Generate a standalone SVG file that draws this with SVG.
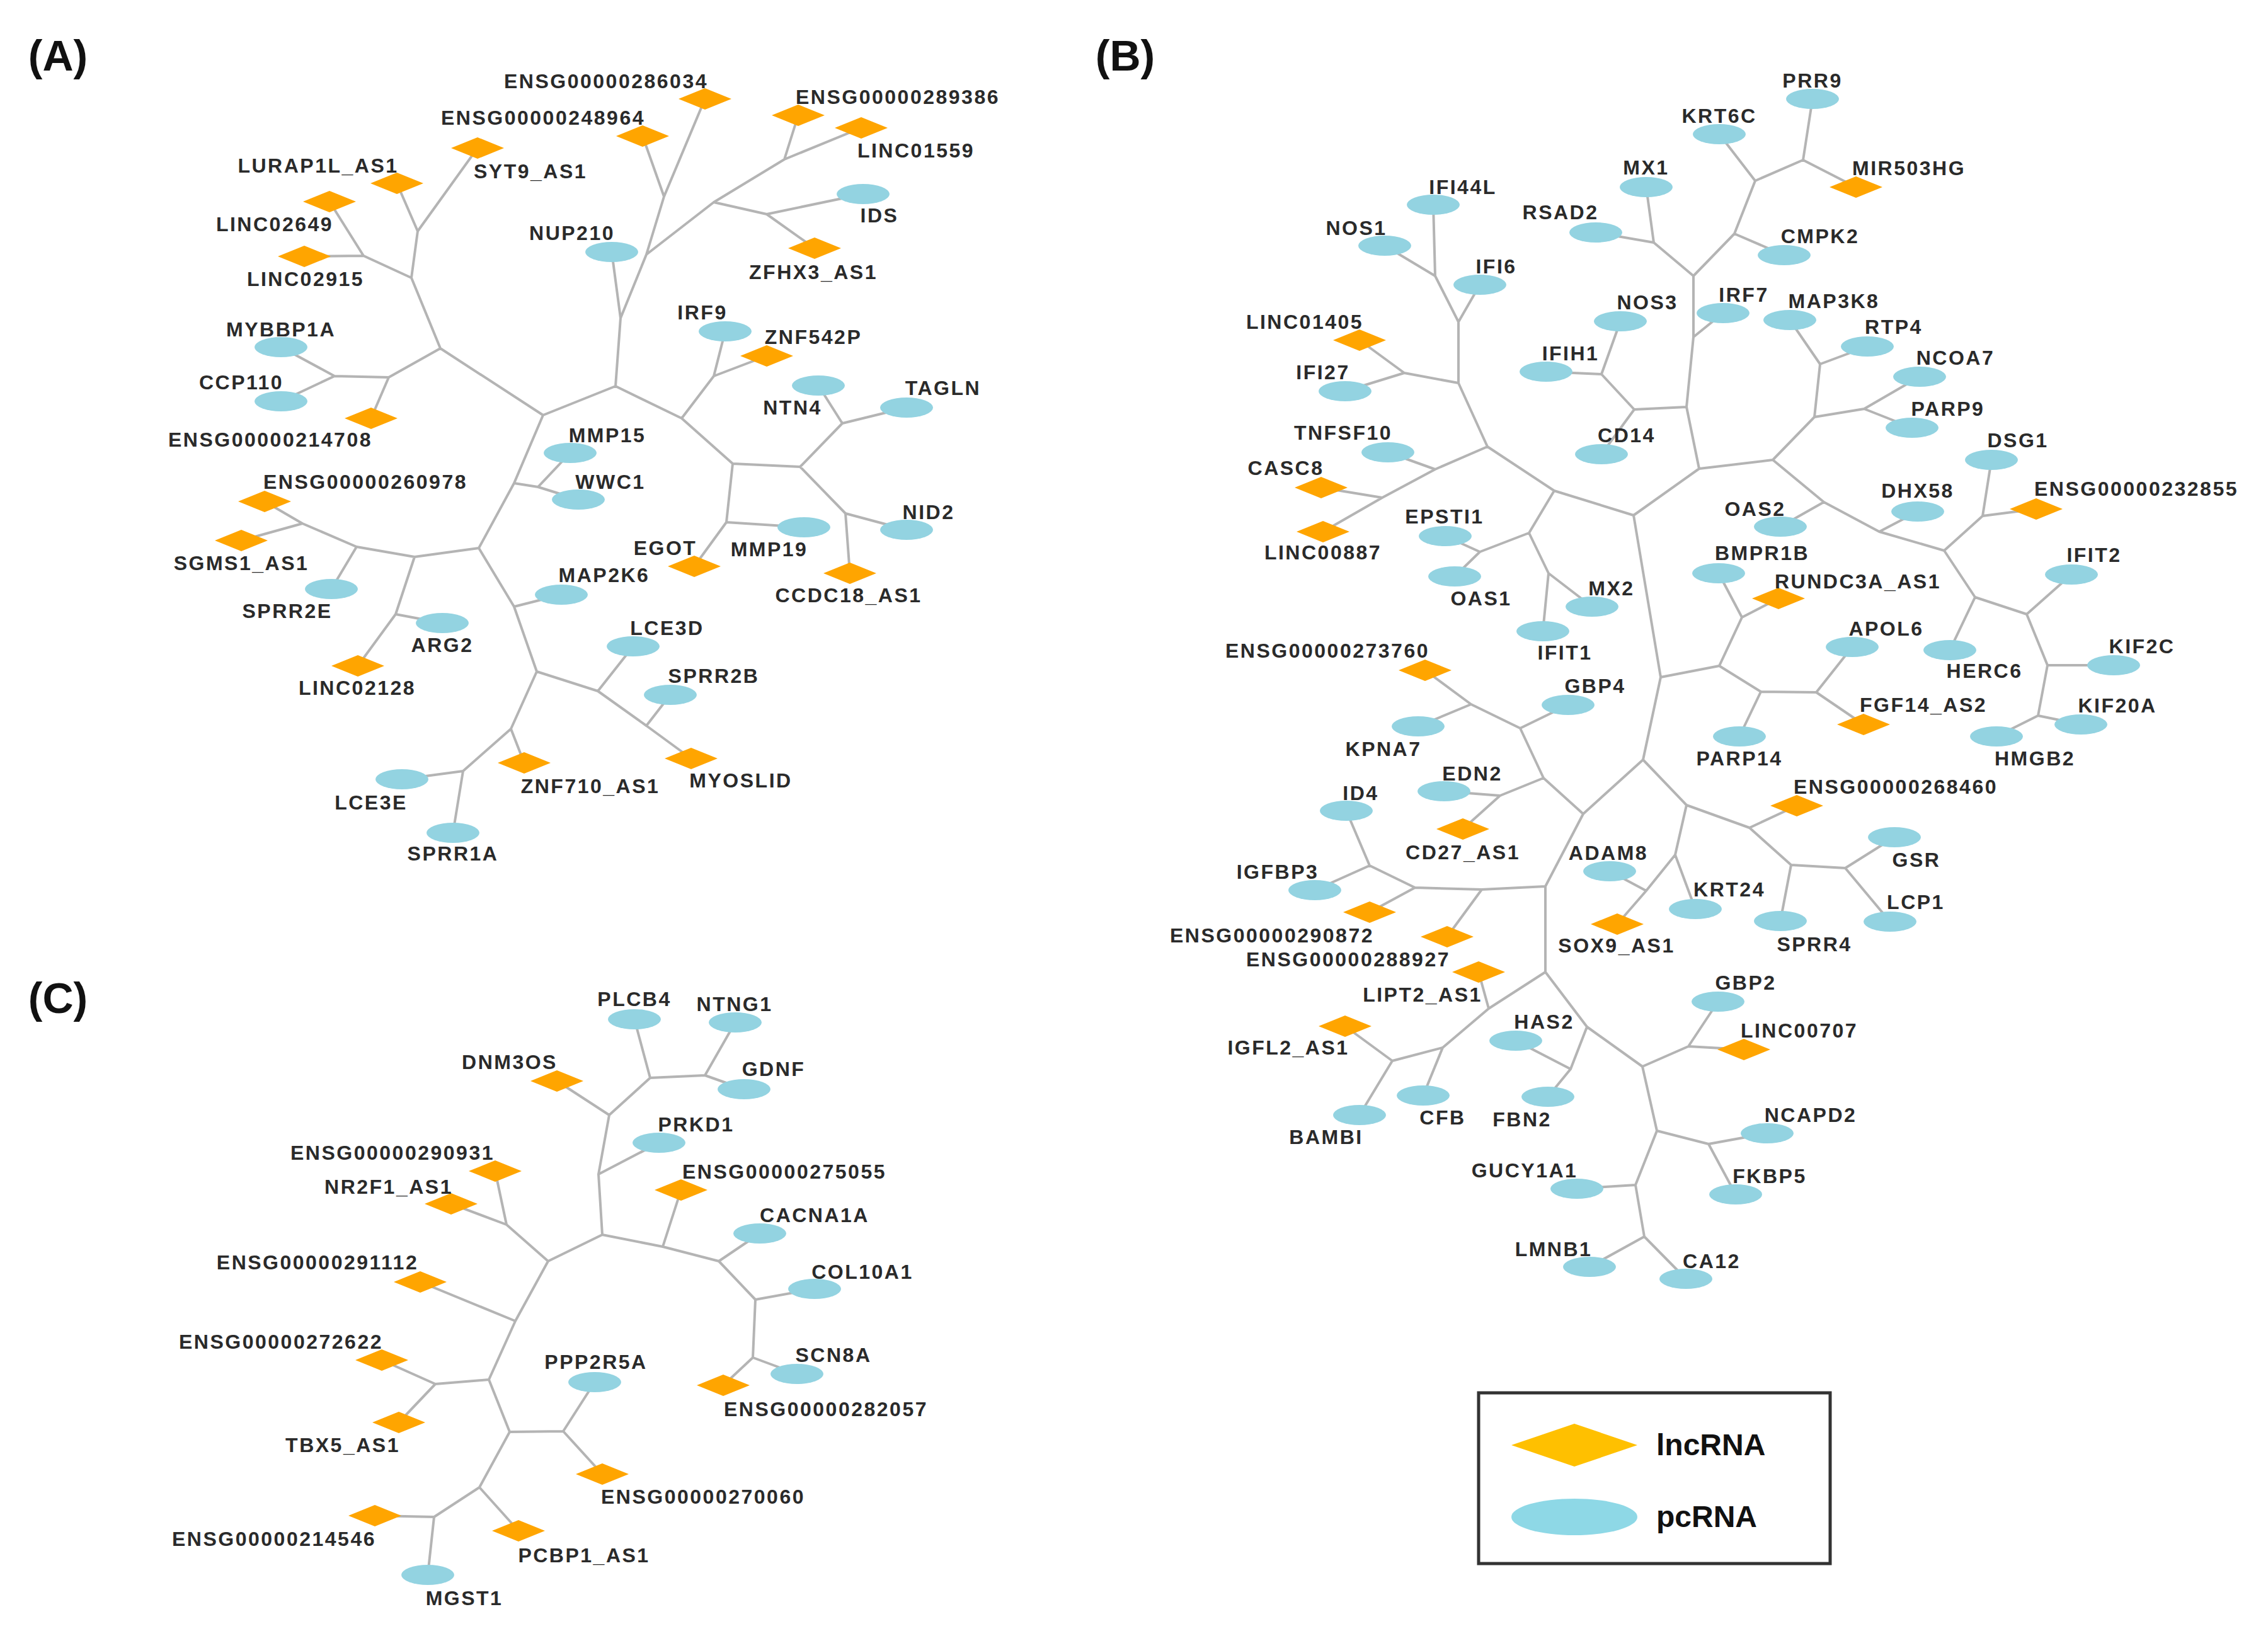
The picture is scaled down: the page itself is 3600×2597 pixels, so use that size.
<svg xmlns="http://www.w3.org/2000/svg" xmlns:xlink="http://www.w3.org/1999/xlink" width="3600" height="2597" viewBox="0 0 3600 2597">
<style>
.e{stroke:#b4b4b4;stroke-width:4;fill:none;stroke-linecap:round}
.pc{fill:#93d3e1}
.t{font-family:'Liberation Sans',Arial,sans-serif;font-weight:bold;font-size:32px;fill:#2a2a2a;text-anchor:middle;letter-spacing:2.5px}
.p{font-family:'Liberation Sans',Arial,sans-serif;font-weight:bold;font-size:68px;fill:#111;text-anchor:middle}
.lg{font-family:'Liberation Sans',Arial,sans-serif;font-weight:bold;font-size:48px;fill:#111}
</style>
<defs>
<polygon id="lnc" points="-42,0 0,-17 42,0 0,17" fill="#ffa500"/>
<ellipse id="pce" cx="0" cy="0" rx="42" ry="16" fill="#93d3e1"/>
</defs>
<rect width="3600" height="2597" fill="#fff"/>
<text class="p" x="92" y="112">(A)</text>
<text class="p" x="1786" y="112">(B)</text>
<text class="p" x="92" y="1608">(C)</text>
<g id="connectors">
<path class="e" d="M1054,312L1119,157M1054,312L1020,216M1054,312L1026,404M1026,404L1133,321M1133,321L1217,340M1217,340L1370,308M1217,340L1293,394M1133,321L1245,253M1245,253L1267,183M1245,253L1367,203M1026,404L985,505M971,400L985,505M985,505L977,613M977,613L862,659M977,613L1082,664M862,659L699,553M699,553L653,441M653,441L663,367M663,367L630,291M663,367L758,235M653,441L577,406M577,406L523,320M577,406L483,407M699,553L617,599M617,599L531,597M531,597L446,551M531,597L446,637M617,599L589,664M862,659L816,767M816,767L854,773M854,773L905,719M854,773L918,793M816,767L760,870M760,870L658,884M658,884L566,868M566,868L480,831M480,831L420,796M480,831L383,858M566,868L526,935M658,884L628,975M628,975L702,989M628,975L568,1057M760,870L816,963M816,963L891,944M816,963L852,1066M852,1066L949,1097M949,1097L1005,1026M949,1097L1026,1152M1026,1152L1064,1103M1026,1152L1097,1204M852,1066L811,1157M811,1157L832,1211M811,1157L735,1224M735,1224L638,1237M735,1224L719,1322M1082,664L1133,597M1133,597L1151,526M1133,597L1217,565M1082,664L1163,736M1163,736L1270,741M1270,741L1337,672M1337,672L1299,612M1337,672L1439,647M1270,741L1342,815M1342,815L1439,841M1342,815L1349,910M1163,736L1153,829M1153,829L1276,837M1153,829L1102,899"/>
<path class="e" d="M2278,438L2198,390M2278,438L2275,325M2278,438L2315,511M2315,511L2349,452M2315,511L2315,608M2315,608L2229,592M2229,592L2158,540M2229,592L2135,621M2315,608L2361,709M2361,709L2278,745M2278,745L2203,718M2278,745L2194,790M2194,790L2097,774M2194,790L2100,844M2361,709L2467,779M2467,779L2427,846M2427,846L2349,876M2349,876L2294,851M2349,876L2309,915M2427,846L2458,910M2458,910L2527,963M2458,910L2449,1002M2467,779L2593,818M2593,818L2697,744M2697,744L2677,646M2677,646L2594,650M2594,650L2542,594M2542,594L2572,510M2542,594L2454,590M2594,650L2542,721M2677,646L2688,535M2688,535L2735,497M2688,535L2688,438M2688,438L2625,385M2625,385L2613,297M2625,385L2533,369M2688,438L2753,371M2753,371L2832,405M2753,371L2786,287M2786,287L2729,213M2786,287L2862,254M2862,254L2877,157M2862,254L2946,297M2697,744L2814,730M2814,730L2880,662M2880,662L2889,578M2889,578L2841,508M2889,578L2964,550M2880,662L2959,649M2959,649L3047,598M2959,649L3035,679M2814,730L2895,797M2895,797L2826,836M2895,797L2983,844M2983,844L3044,812M2983,844L3086,874M3086,874L3147,819M3147,819L3161,730M3147,819L3232,808M3086,874L3135,948M3135,948L3095,1032M3135,948L3217,975M3217,975L3288,912M3217,975L3250,1056M3250,1056L3355,1056M3250,1056L3235,1136M3235,1136L3303,1150M3235,1136L3169,1169M2593,818L2636,1075M2636,1075L2729,1057M2729,1057L2765,980M2765,980L2728,910M2765,980L2823,950M2729,1057L2795,1098M2795,1098L2761,1169M2795,1098L2883,1099M2883,1099L2940,1027M2883,1099L2958,1150M2636,1075L2608,1206M2608,1206L2513,1292M2513,1292L2450,1235M2450,1235L2413,1156M2413,1156L2489,1119M2413,1156L2335,1118M2335,1118L2262,1064M2335,1118L2251,1153M2450,1235L2381,1263M2381,1263L2292,1256M2381,1263L2322,1316M2513,1292L2453,1407M2453,1407L2352,1412M2352,1412L2297,1487M2352,1412L2246,1409M2246,1409L2174,1448M2246,1409L2174,1374M2174,1374L2137,1287M2174,1374L2087,1413M2453,1407L2453,1543M2453,1543L2363,1601M2363,1601L2347,1543M2363,1601L2290,1663M2290,1663L2259,1739M2290,1663L2210,1684M2210,1684L2135,1629M2210,1684L2158,1770M2453,1543L2519,1630M2519,1630L2493,1697M2493,1697L2406,1652M2493,1697L2457,1741M2519,1630L2607,1693M2607,1693L2680,1661M2680,1661L2727,1590M2680,1661L2768,1666M2607,1693L2630,1795M2630,1795L2712,1816M2712,1816L2805,1799M2712,1816L2755,1896M2630,1795L2596,1881M2596,1881L2503,1887M2596,1881L2610,1963M2610,1963L2523,2011M2610,1963L2676,2030M2608,1206L2677,1278M2677,1278L2659,1357M2659,1357L2691,1443M2659,1357L2613,1414M2613,1414L2555,1383M2613,1414L2567,1467M2677,1278L2777,1314M2777,1314L2852,1279M2777,1314L2843,1373M2843,1373L2826,1462M2843,1373L2929,1378M2929,1378L3007,1329M2929,1378L3000,1463"/>
<path class="e" d="M1032,1711L1007,1618M1032,1711L1119,1707M1119,1707L1167,1623M1119,1707L1181,1729M1032,1711L967,1770M967,1770L884,1716M967,1770L950,1864M950,1864L1046,1814M950,1864L956,1960M956,1960L870,2002M870,2002L804,1944M804,1944L786,1859M804,1944L716,1911M870,2002L818,2097M818,2097L667,2035M818,2097L776,2190M776,2190L691,2197M691,2197L606,2159M691,2197L633,2258M776,2190L809,2273M809,2273L894,2272M894,2272L944,2194M894,2272L956,2340M809,2273L761,2361M761,2361L823,2430M761,2361L689,2408M689,2408L595,2406M689,2408L679,2500M956,1960L1052,1979M1052,1979L1081,1889M1052,1979L1141,2002M1141,2002L1206,1958M1141,2002L1199,2063M1199,2063L1293,2046M1199,2063L1195,2155M1195,2155L1265,2181M1195,2155L1148,2199"/>
</g>
<g id="panelA">
<g id="a-ENSG00000286034"><use href="#lnc" x="1119" y="157"/><text class="t" x="962" y="140">ENSG00000286034</text></g>
<g id="a-ENSG00000289386"><use href="#lnc" x="1267" y="183"/><text class="t" x="1425" y="165">ENSG00000289386</text></g>
<g id="a-ENSG00000248964"><use href="#lnc" x="1020" y="216"/><text class="t" x="862" y="198">ENSG00000248964</text></g>
<g id="a-LINC01559"><use href="#lnc" x="1367" y="203"/><text class="t" x="1454" y="250">LINC01559</text></g>
<g id="a-SYT9_AS1"><use href="#lnc" x="758" y="235"/><text class="t" x="842" y="283">SYT9_AS1</text></g>
<g id="a-LURAP1L_AS1"><use href="#lnc" x="630" y="291"/><text class="t" x="505" y="274">LURAP1L_AS1</text></g>
<g id="a-LINC02649"><use href="#lnc" x="523" y="320"/><text class="t" x="436" y="367">LINC02649</text></g>
<g id="a-ZFHX3_AS1"><use href="#lnc" x="1293" y="394"/><text class="t" x="1291" y="443">ZFHX3_AS1</text></g>
<g id="a-LINC02915"><use href="#lnc" x="483" y="407"/><text class="t" x="485" y="454">LINC02915</text></g>
<g id="a-ZNF542P"><use href="#lnc" x="1217" y="565"/><text class="t" x="1291" y="546">ZNF542P</text></g>
<g id="a-ENSG00000214708"><use href="#lnc" x="589" y="664"/><text class="t" x="429" y="709">ENSG00000214708</text></g>
<g id="a-ENSG00000260978"><use href="#lnc" x="420" y="796"/><text class="t" x="580" y="776">ENSG00000260978</text></g>
<g id="a-SGMS1_AS1"><use href="#lnc" x="383" y="858"/><text class="t" x="383" y="905">SGMS1_AS1</text></g>
<g id="a-EGOT"><use href="#lnc" x="1102" y="899"/><text class="t" x="1056" y="881">EGOT</text></g>
<g id="a-CCDC18_AS1"><use href="#lnc" x="1349" y="910"/><text class="t" x="1347" y="956">CCDC18_AS1</text></g>
<g id="a-LINC02128"><use href="#lnc" x="568" y="1057"/><text class="t" x="567" y="1103">LINC02128</text></g>
<g id="a-ZNF710_AS1"><use href="#lnc" x="832" y="1211"/><text class="t" x="937" y="1259">ZNF710_AS1</text></g>
<g id="a-MYOSLID"><use href="#lnc" x="1097" y="1204"/><text class="t" x="1176" y="1250">MYOSLID</text></g>
<g id="a-IDS"><use href="#pce" x="1370" y="308"/><text class="t" x="1396" y="353">IDS</text></g>
<g id="a-NUP210"><use href="#pce" x="971" y="400"/><text class="t" x="908" y="381">NUP210</text></g>
<g id="a-MYBBP1A"><use href="#pce" x="446" y="551"/><text class="t" x="446" y="534">MYBBP1A</text></g>
<g id="a-IRF9"><use href="#pce" x="1151" y="526"/><text class="t" x="1115" y="507">IRF9</text></g>
<g id="a-CCP110"><use href="#pce" x="446" y="637"/><text class="t" x="383" y="618">CCP110</text></g>
<g id="a-NTN4"><use href="#pce" x="1299" y="612"/><text class="t" x="1258" y="658">NTN4</text></g>
<g id="a-TAGLN"><use href="#pce" x="1439" y="647"/><text class="t" x="1497" y="627">TAGLN</text></g>
<g id="a-MMP15"><use href="#pce" x="905" y="719"/><text class="t" x="964" y="702">MMP15</text></g>
<g id="a-WWC1"><use href="#pce" x="918" y="793"/><text class="t" x="969" y="776">WWC1</text></g>
<g id="a-NID2"><use href="#pce" x="1439" y="841"/><text class="t" x="1474" y="824">NID2</text></g>
<g id="a-MMP19"><use href="#pce" x="1276" y="837"/><text class="t" x="1221" y="883">MMP19</text></g>
<g id="a-MAP2K6"><use href="#pce" x="891" y="944"/><text class="t" x="959" y="924">MAP2K6</text></g>
<g id="a-SPRR2E"><use href="#pce" x="526" y="935"/><text class="t" x="456" y="981">SPRR2E</text></g>
<g id="a-ARG2"><use href="#pce" x="702" y="989"/><text class="t" x="702" y="1035">ARG2</text></g>
<g id="a-LCE3D"><use href="#pce" x="1005" y="1026"/><text class="t" x="1059" y="1008">LCE3D</text></g>
<g id="a-SPRR2B"><use href="#pce" x="1064" y="1103"/><text class="t" x="1133" y="1084">SPRR2B</text></g>
<g id="a-LCE3E"><use href="#pce" x="638" y="1237"/><text class="t" x="589" y="1285">LCE3E</text></g>
<g id="a-SPRR1A"><use href="#pce" x="719" y="1322"/><text class="t" x="719" y="1366">SPRR1A</text></g>
</g>
<g id="panelB">
<g id="b-MIR503HG"><use href="#lnc" x="2946" y="297"/><text class="t" x="3030" y="278">MIR503HG</text></g>
<g id="b-LINC01405"><use href="#lnc" x="2158" y="540"/><text class="t" x="2071" y="522">LINC01405</text></g>
<g id="b-CASC8"><use href="#lnc" x="2097" y="774"/><text class="t" x="2041" y="754">CASC8</text></g>
<g id="b-LINC00887"><use href="#lnc" x="2100" y="844"/><text class="t" x="2100" y="888">LINC00887</text></g>
<g id="b-ENSG00000232855"><use href="#lnc" x="3232" y="808"/><text class="t" x="3391" y="787">ENSG00000232855</text></g>
<g id="b-RUNDC3A_AS1"><use href="#lnc" x="2823" y="950"/><text class="t" x="2949" y="934">RUNDC3A_AS1</text></g>
<g id="b-ENSG00000273760"><use href="#lnc" x="2262" y="1064"/><text class="t" x="2107" y="1044">ENSG00000273760</text></g>
<g id="b-FGF14_AS2"><use href="#lnc" x="2958" y="1150"/><text class="t" x="3053" y="1130">FGF14_AS2</text></g>
<g id="b-ENSG00000268460"><use href="#lnc" x="2852" y="1279"/><text class="t" x="3009" y="1260">ENSG00000268460</text></g>
<g id="b-CD27_AS1"><use href="#lnc" x="2322" y="1316"/><text class="t" x="2322" y="1364">CD27_AS1</text></g>
<g id="b-ENSG00000290872"><use href="#lnc" x="2174" y="1448"/><text class="t" x="2019" y="1496">ENSG00000290872</text></g>
<g id="b-SOX9_AS1"><use href="#lnc" x="2567" y="1467"/><text class="t" x="2566" y="1512">SOX9_AS1</text></g>
<g id="b-ENSG00000288927"><use href="#lnc" x="2297" y="1487"/><text class="t" x="2140" y="1534">ENSG00000288927</text></g>
<g id="b-LIPT2_AS1"><use href="#lnc" x="2347" y="1543"/><text class="t" x="2258" y="1590">LIPT2_AS1</text></g>
<g id="b-LINC00707"><use href="#lnc" x="2768" y="1666"/><text class="t" x="2856" y="1647">LINC00707</text></g>
<g id="b-IGFL2_AS1"><use href="#lnc" x="2135" y="1629"/><text class="t" x="2045" y="1674">IGFL2_AS1</text></g>
<g id="b-PRR9"><use href="#pce" x="2877" y="157"/><text class="t" x="2877" y="139">PRR9</text></g>
<g id="b-KRT6C"><use href="#pce" x="2729" y="213"/><text class="t" x="2729" y="195">KRT6C</text></g>
<g id="b-MX1"><use href="#pce" x="2613" y="297"/><text class="t" x="2613" y="277">MX1</text></g>
<g id="b-IFI44L"><use href="#pce" x="2275" y="325"/><text class="t" x="2322" y="308">IFI44L</text></g>
<g id="b-RSAD2"><use href="#pce" x="2533" y="369"/><text class="t" x="2477" y="348">RSAD2</text></g>
<g id="b-CMPK2"><use href="#pce" x="2832" y="405"/><text class="t" x="2889" y="386">CMPK2</text></g>
<g id="b-NOS1"><use href="#pce" x="2198" y="390"/><text class="t" x="2153" y="373">NOS1</text></g>
<g id="b-IFI6"><use href="#pce" x="2349" y="452"/><text class="t" x="2375" y="434">IFI6</text></g>
<g id="b-NOS3"><use href="#pce" x="2572" y="510"/><text class="t" x="2615" y="491">NOS3</text></g>
<g id="b-IRF7"><use href="#pce" x="2735" y="497"/><text class="t" x="2768" y="479">IRF7</text></g>
<g id="b-MAP3K8"><use href="#pce" x="2841" y="508"/><text class="t" x="2911" y="489">MAP3K8</text></g>
<g id="b-RTP4"><use href="#pce" x="2964" y="550"/><text class="t" x="3006" y="530">RTP4</text></g>
<g id="b-IFIH1"><use href="#pce" x="2454" y="590"/><text class="t" x="2493" y="572">IFIH1</text></g>
<g id="b-NCOA7"><use href="#pce" x="3047" y="598"/><text class="t" x="3104" y="579">NCOA7</text></g>
<g id="b-IFI27"><use href="#pce" x="2135" y="621"/><text class="t" x="2100" y="602">IFI27</text></g>
<g id="b-PARP9"><use href="#pce" x="3035" y="679"/><text class="t" x="3092" y="660">PARP9</text></g>
<g id="b-DSG1"><use href="#pce" x="3161" y="730"/><text class="t" x="3203" y="710">DSG1</text></g>
<g id="b-CD14"><use href="#pce" x="2542" y="721"/><text class="t" x="2582" y="702">CD14</text></g>
<g id="b-TNFSF10"><use href="#pce" x="2203" y="718"/><text class="t" x="2132" y="698">TNFSF10</text></g>
<g id="b-DHX58"><use href="#pce" x="3044" y="812"/><text class="t" x="3044" y="790">DHX58</text></g>
<g id="b-OAS2"><use href="#pce" x="2826" y="836"/><text class="t" x="2786" y="819">OAS2</text></g>
<g id="b-EPSTI1"><use href="#pce" x="2294" y="851"/><text class="t" x="2293" y="831">EPSTI1</text></g>
<g id="b-IFIT2"><use href="#pce" x="3288" y="912"/><text class="t" x="3324" y="892">IFIT2</text></g>
<g id="b-BMPR1B"><use href="#pce" x="2728" y="910"/><text class="t" x="2797" y="889">BMPR1B</text></g>
<g id="b-OAS1"><use href="#pce" x="2309" y="915"/><text class="t" x="2351" y="961">OAS1</text></g>
<g id="b-MX2"><use href="#pce" x="2527" y="963"/><text class="t" x="2558" y="945">MX2</text></g>
<g id="b-IFIT1"><use href="#pce" x="2449" y="1002"/><text class="t" x="2484" y="1047">IFIT1</text></g>
<g id="b-APOL6"><use href="#pce" x="2940" y="1027"/><text class="t" x="2994" y="1009">APOL6</text></g>
<g id="b-HERC6"><use href="#pce" x="3095" y="1032"/><text class="t" x="3150" y="1076">HERC6</text></g>
<g id="b-KIF2C"><use href="#pce" x="3355" y="1056"/><text class="t" x="3400" y="1037">KIF2C</text></g>
<g id="b-GBP4"><use href="#pce" x="2489" y="1119"/><text class="t" x="2532" y="1100">GBP4</text></g>
<g id="b-KIF20A"><use href="#pce" x="3303" y="1150"/><text class="t" x="3361" y="1131">KIF20A</text></g>
<g id="b-HMGB2"><use href="#pce" x="3169" y="1169"/><text class="t" x="3230" y="1215">HMGB2</text></g>
<g id="b-KPNA7"><use href="#pce" x="2251" y="1153"/><text class="t" x="2196" y="1200">KPNA7</text></g>
<g id="b-PARP14"><use href="#pce" x="2761" y="1169"/><text class="t" x="2761" y="1215">PARP14</text></g>
<g id="b-ID4"><use href="#pce" x="2137" y="1287"/><text class="t" x="2160" y="1270">ID4</text></g>
<g id="b-EDN2"><use href="#pce" x="2292" y="1256"/><text class="t" x="2337" y="1239">EDN2</text></g>
<g id="b-GSR"><use href="#pce" x="3007" y="1329"/><text class="t" x="3042" y="1376">GSR</text></g>
<g id="b-ADAM8"><use href="#pce" x="2555" y="1383"/><text class="t" x="2553" y="1365">ADAM8</text></g>
<g id="b-IGFBP3"><use href="#pce" x="2087" y="1413"/><text class="t" x="2028" y="1395">IGFBP3</text></g>
<g id="b-KRT24"><use href="#pce" x="2691" y="1443"/><text class="t" x="2745" y="1423">KRT24</text></g>
<g id="b-LCP1"><use href="#pce" x="3000" y="1463"/><text class="t" x="3041" y="1443">LCP1</text></g>
<g id="b-SPRR4"><use href="#pce" x="2826" y="1462"/><text class="t" x="2880" y="1510">SPRR4</text></g>
<g id="b-GBP2"><use href="#pce" x="2727" y="1590"/><text class="t" x="2771" y="1571">GBP2</text></g>
<g id="b-HAS2"><use href="#pce" x="2406" y="1652"/><text class="t" x="2451" y="1633">HAS2</text></g>
<g id="b-NCAPD2"><use href="#pce" x="2805" y="1799"/><text class="t" x="2874" y="1781">NCAPD2</text></g>
<g id="b-FBN2"><use href="#pce" x="2457" y="1741"/><text class="t" x="2416" y="1788">FBN2</text></g>
<g id="b-CFB"><use href="#pce" x="2259" y="1739"/><text class="t" x="2290" y="1785">CFB</text></g>
<g id="b-BAMBI"><use href="#pce" x="2158" y="1770"/><text class="t" x="2105" y="1816">BAMBI</text></g>
<g id="b-GUCY1A1"><use href="#pce" x="2503" y="1887"/><text class="t" x="2420" y="1869">GUCY1A1</text></g>
<g id="b-FKBP5"><use href="#pce" x="2755" y="1896"/><text class="t" x="2809" y="1878">FKBP5</text></g>
<g id="b-LMNB1"><use href="#pce" x="2523" y="2011"/><text class="t" x="2466" y="1994">LMNB1</text></g>
<g id="b-CA12"><use href="#pce" x="2676" y="2030"/><text class="t" x="2717" y="2013">CA12</text></g>
</g>
<g id="panelC">
<g id="c-DNM3OS"><use href="#lnc" x="884" y="1716"/><text class="t" x="809" y="1697">DNM3OS</text></g>
<g id="c-ENSG00000290931"><use href="#lnc" x="786" y="1859"/><text class="t" x="623" y="1841">ENSG00000290931</text></g>
<g id="c-ENSG00000275055"><use href="#lnc" x="1081" y="1889"/><text class="t" x="1245" y="1871">ENSG00000275055</text></g>
<g id="c-NR2F1_AS1"><use href="#lnc" x="716" y="1911"/><text class="t" x="617" y="1895">NR2F1_AS1</text></g>
<g id="c-ENSG00000291112"><use href="#lnc" x="667" y="2035"/><text class="t" x="504" y="2015">ENSG00000291112</text></g>
<g id="c-ENSG00000272622"><use href="#lnc" x="606" y="2159"/><text class="t" x="446" y="2141">ENSG00000272622</text></g>
<g id="c-ENSG00000282057"><use href="#lnc" x="1148" y="2199"/><text class="t" x="1311" y="2248">ENSG00000282057</text></g>
<g id="c-TBX5_AS1"><use href="#lnc" x="633" y="2258"/><text class="t" x="544" y="2305">TBX5_AS1</text></g>
<g id="c-ENSG00000270060"><use href="#lnc" x="956" y="2340"/><text class="t" x="1116" y="2387">ENSG00000270060</text></g>
<g id="c-ENSG00000214546"><use href="#lnc" x="595" y="2406"/><text class="t" x="435" y="2454">ENSG00000214546</text></g>
<g id="c-PCBP1_AS1"><use href="#lnc" x="823" y="2430"/><text class="t" x="927" y="2480">PCBP1_AS1</text></g>
<g id="c-PLCB4"><use href="#pce" x="1007" y="1618"/><text class="t" x="1007" y="1597">PLCB4</text></g>
<g id="c-NTNG1"><use href="#pce" x="1167" y="1623"/><text class="t" x="1166" y="1605">NTNG1</text></g>
<g id="c-GDNF"><use href="#pce" x="1181" y="1729"/><text class="t" x="1228" y="1708">GDNF</text></g>
<g id="c-PRKD1"><use href="#pce" x="1046" y="1814"/><text class="t" x="1105" y="1796">PRKD1</text></g>
<g id="c-CACNA1A"><use href="#pce" x="1206" y="1958"/><text class="t" x="1293" y="1940">CACNA1A</text></g>
<g id="c-COL10A1"><use href="#pce" x="1293" y="2046"/><text class="t" x="1369" y="2030">COL10A1</text></g>
<g id="c-SCN8A"><use href="#pce" x="1265" y="2181"/><text class="t" x="1323" y="2162">SCN8A</text></g>
<g id="c-PPP2R5A"><use href="#pce" x="944" y="2194"/><text class="t" x="946" y="2173">PPP2R5A</text></g>
<g id="c-MGST1"><use href="#pce" x="679" y="2500"/><text class="t" x="737" y="2548">MGST1</text></g>
</g>
<g id="legend">
<rect x="2347" y="2211" width="558" height="271" fill="#fff" stroke="#333" stroke-width="5"/>
<polygon points="2399,2294 2499,2260 2599,2294 2499,2328" fill="#ffc000"/>
<ellipse cx="2499" cy="2408" rx="100" ry="29" fill="#8ed8e6"/>
<text class="lg" x="2629" y="2310">lncRNA</text>
<text class="lg" x="2629" y="2424">pcRNA</text>
</g>
</svg>
